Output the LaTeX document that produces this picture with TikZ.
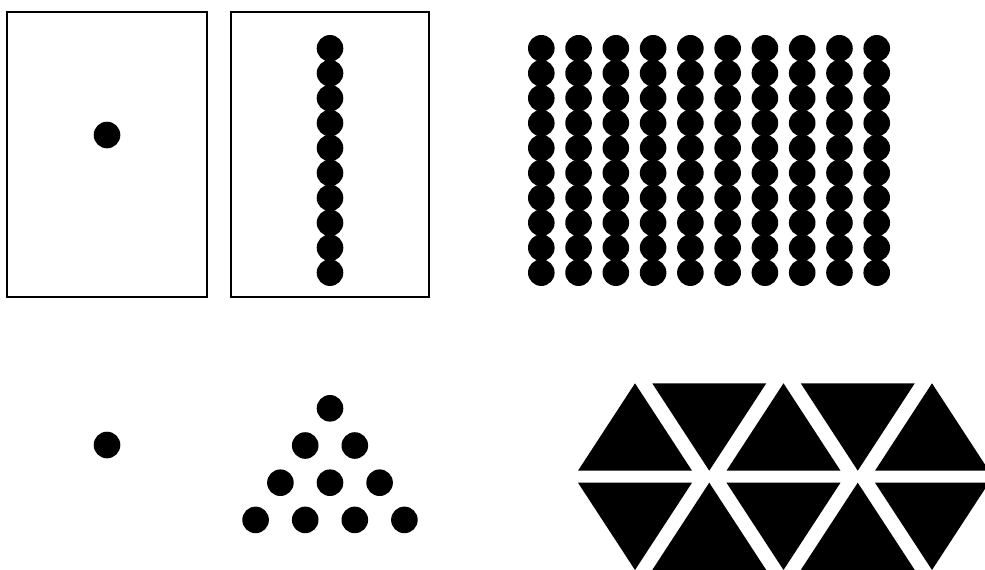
\documentclass[tikz,border=0pt]{standalone}
\begin{document}
\begin{tikzpicture}[x=1pt,y=-1pt,
  dot/.style={fill=black},
  card/.style={draw=black,line width=1.5pt},
  tri/.style={fill=black}]
\useasboundingbox (0,0) rectangle (985,570);
% cards
\draw[card] (7,12) rectangle (207,297);
\draw[card] (231,12) rectangle (429,297);
\fill[dot] (107,135) circle (13.3);
\foreach \j in {0,...,9}
  \fill[dot] (330,48.3+24.93*\j) circle (13.3);
% hundred
\foreach \i in {0,...,9}
  \foreach \j in {0,...,9}
    \fill[dot] (541.3+37.27*\i,48.3+24.93*\j) circle (13.3);
% one and ten
\fill[dot] (107,445) circle (13.3);
\foreach \r in {0,...,3}
  \foreach \k in {0,...,\r}
    \fill[dot] (330+49.6*\k-24.8*\r,408.3+37.2*\r) circle (13.3);
% triangles
\begin{scope}
\clip (0,0) rectangle (985,570);
\foreach \i in {0,2,4} {
  \fill[tri] (635+74.25*\i,383.3) -- (578+74.25*\i,470.7) -- (692+74.25*\i,470.7) -- cycle;
  \fill[tri] (635+74.25*\i,570) -- (578+74.25*\i,482.7) -- (692+74.25*\i,482.7) -- cycle;
}
\foreach \i in {1,3} {
  \fill[tri] (635+74.25*\i,470.7) -- (578+74.25*\i,383.3) -- (692+74.25*\i,383.3) -- cycle;
  \fill[tri] (635+74.25*\i,482.7) -- (578+74.25*\i,570) -- (692+74.25*\i,570) -- cycle;
}
\end{scope}
\end{tikzpicture}
\end{document}
